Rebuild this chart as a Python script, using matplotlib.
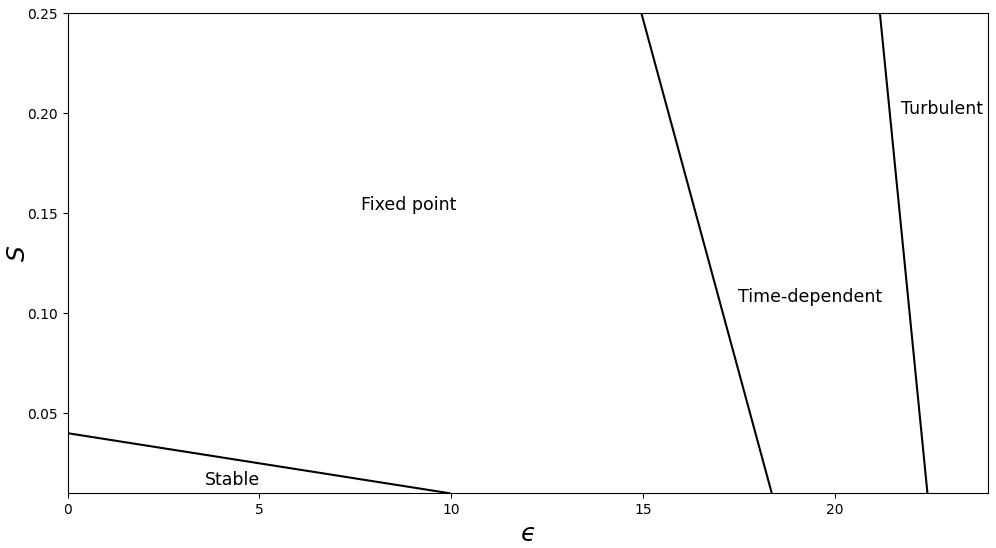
import matplotlib
matplotlib.use("Agg")
import matplotlib.pyplot as plt

# phase boundaries (epsilon, S)
stable_eps = [0.0, 9.95]
stable_S = [0.040, 0.010]

timedep_eps = [14.96, 18.36]
timedep_S = [0.25, 0.01]

turb_eps = [21.18, 22.42]
turb_S = [0.25, 0.01]

# region labels
region_names = ["Fixed point", "Time-dependent", "Turbulent", "Stable"]
region_eps = [8.88, 19.35, 22.8, 4.3]
region_S = [0.154, 0.108, 0.202, 0.0165]

fig, ax = plt.subplots(figsize=(9.96, 5.48), dpi=100)

ax.plot(stable_eps, stable_S, color="black", lw=1.5)
ax.plot(timedep_eps, timedep_S, color="black", lw=1.5)
ax.plot(turb_eps, turb_S, color="black", lw=1.5)

for name, e, s in zip(region_names, region_eps, region_S):
    ax.text(e, s, name, fontsize=12.5, ha="center", va="center")

ax.set_xlim(0, 24)
ax.set_ylim(0.01, 0.25)
ax.set_xticks([0, 5, 10, 15, 20])
ax.set_yticks([0.05, 0.10, 0.15, 0.20, 0.25])
ax.set_xlabel("$\u03f5$", fontsize=18)
ax.set_ylabel("$S$", fontsize=18, labelpad=-2)

plt.subplots_adjust(left=0.068, right=0.992, top=0.976, bottom=0.1)
plt.savefig("out.png")
